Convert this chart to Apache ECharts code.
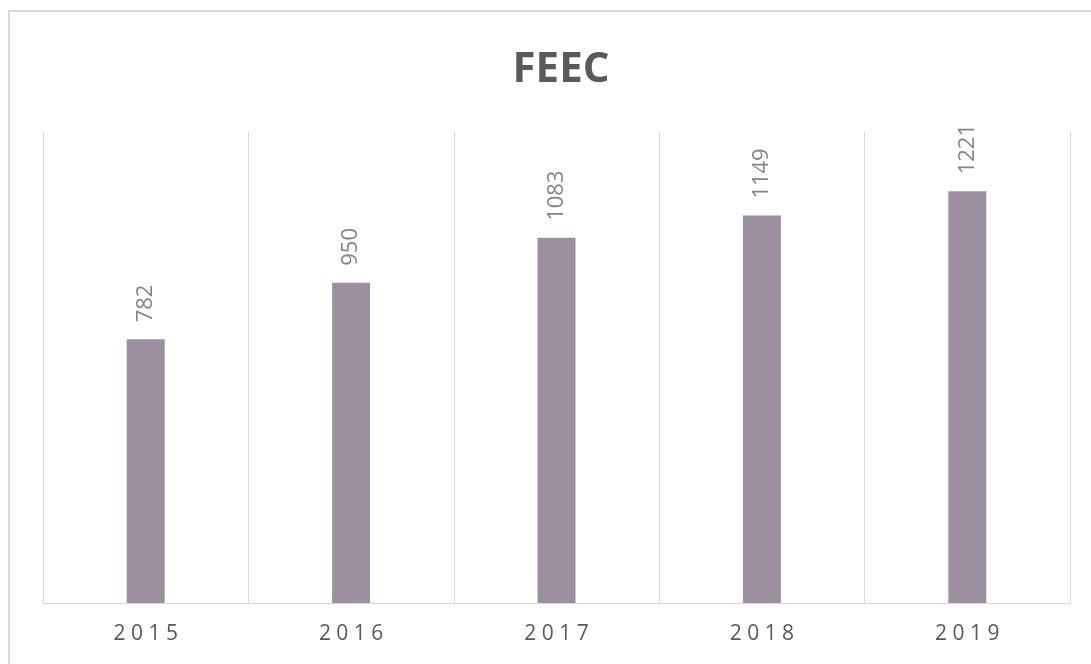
<!DOCTYPE html>
<html>
<head>
<meta charset="utf-8">
<script src="https://cdn.jsdelivr.net/npm/echarts@6/dist/echarts.min.js"></script>
<style>
  html, body { margin: 0; padding: 0; background: #fff; overflow: hidden; }
  #chart { width: 1091px; height: 664px; }
  /* outer frame, cut off at the right and bottom like the reference */
  .frame {
    position: absolute; left: 8px; top: 10px; width: 1200px; height: 800px;
    border: 2px solid #d9d9d9; pointer-events: none;
  }
</style>
</head>
<body>
<div id="chart"></div>
<div class="frame"></div>
<script>
// data
const years = ['2015', '2016', '2017', '2018', '2019'];
const feec = [782, 950, 1083, 1149, 1221];

const font = '"Open Sans", sans-serif';

let myChart = echarts.init(document.getElementById('chart'));
myChart.setOption({
  animation: false,
  title: {
    text: 'FEEC',
    left: 556,
    top: 44,
    textAlign: 'center',
    textStyle: {
      color: '#595959',
      fontSize: 42,
      fontWeight: 'bold',
      fontFamily: font,
    },
  },
  grid: {
    left: 43,
    right: 21,
    top: 131,
    bottom: 61,
  },
  xAxis: {
    type: 'category',
    data: years,
    axisLine: { lineStyle: { color: '#d9d9d9', width: 1 } },
    axisTick: { show: false },
    splitLine: { show: true, interval: 0, lineStyle: { color: '#d9d9d9', width: 1 } },
    axisLabel: {
      color: '#595959',
      fontSize: 21,
      fontFamily: font,
      margin: 21,
      // spaced digits like the reference
      formatter: (v) => v.split('').join(' '),
    },
  },
  yAxis: {
    type: 'value',
    min: 0,
    max: 1400,
    axisLabel: { show: false },
    axisLine: { show: false },
    axisTick: { show: false },
    splitLine: { show: false },
  },
  series: [{
    type: 'bar',
    name: 'FEEC',
    data: feec,
    barWidth: 38,
    itemStyle: { color: '#9c8f9f' },
    label: {
      show: true,
      position: 'top',
      distance: 17,
      rotate: 90,
      align: 'left',
      verticalAlign: 'middle',
      color: '#858585',
      fontSize: 22,
      fontFamily: font,
    },
  }],
});
</script>
</body>
</html>
